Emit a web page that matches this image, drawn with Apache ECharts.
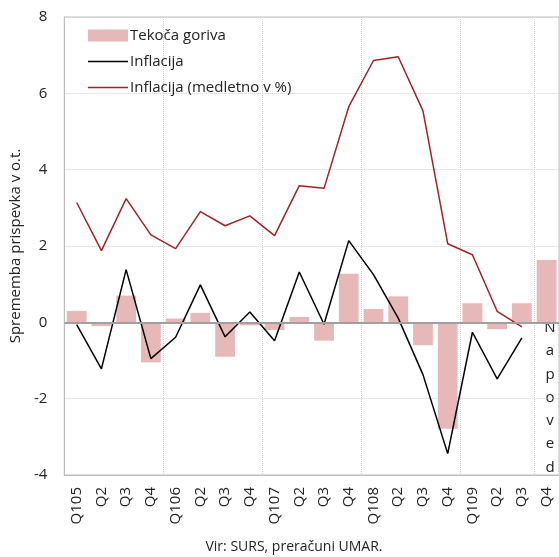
<!DOCTYPE html>
<html>
<head>
<meta charset="utf-8">
<script src="https://cdn.jsdelivr.net/npm/echarts@6/dist/echarts.min.js"></script>
<style>
  html, body { margin: 0; padding: 0; background: #fff; }
  #chart { width: 559px; height: 557px; }
</style>
</head>
<body>
<div id="chart"></div>
<script>
// quarters, 2005 Q1 .. 2009 Q4
const categories = ['Q105', 'Q2', 'Q3', 'Q4', 'Q106', 'Q2', 'Q3', 'Q4', 'Q107', 'Q2',
  'Q3', 'Q4', 'Q108', 'Q2', 'Q3', 'Q4', 'Q109', 'Q2', 'Q3', 'Q4'];

// contribution of liquid fuels (bars)
const fuels = [0.3, -0.1, 0.7, -1.05, 0.1, 0.25, -0.9, -0.08, -0.2, 0.14,
  -0.48, 1.27, 0.35, 0.68, -0.6, -2.79, 0.5, -0.18, 0.5, 1.63];

// inflation (black line)
const inflation = [-0.06, -1.22, 1.38, -0.95, -0.39, 0.98, -0.38, 0.27, -0.48, 1.32,
  -0.05, 2.14, 1.25, 0.11, -1.37, -3.44, -0.26, -1.48, -0.41];

// inflation, year on year in % (red line)
const inflationYoy = [3.14, 1.88, 3.24, 2.29, 1.93, 2.9, 2.53, 2.79, 2.27, 3.58,
  3.51, 5.65, 6.86, 6.96, 5.54, 2.06, 1.77, 0.29, -0.12];

const font = 'Open Sans';
// plain line icon for the legend (no symbol dot)
const lineIcon = 'path://M0,0H40V1.5H0Z';

const chart = echarts.init(document.getElementById('chart'));

const options = {
  animation: false,
  textStyle: { fontFamily: font },
  grid: {
    left: 59,
    right: 0,
    top: 17,
    bottom: 82,
    show: true,
    borderColor: '#bdbdbd',
    borderWidth: 1,
  },
  legend: {
    orient: 'vertical',
    left: 83,
    top: 23,
    itemWidth: 40,
    itemHeight: 12,
    itemGap: 11,
    textStyle: { fontSize: 15, color: '#222', fontFamily: font, padding: [0, 0, 0, -3] },
    data: [
      { name: 'Tekoča goriva', icon: 'rect' },
      { name: 'Inflacija', icon: lineIcon },
      { name: 'Inflacija (medletno v %)', icon: lineIcon },
    ],
  },
  xAxis: {
    type: 'category',
    data: categories,
    boundaryGap: true,
    axisLine: { onZero: false, lineStyle: { color: '#bdbdbd' } },
    axisTick: { show: false },
    axisLabel: { rotate: 90, fontSize: 15, color: '#222', margin: 12, interval: 0 },
    splitLine: {
      show: true,
      interval: 3,
      lineStyle: { color: '#d0d0d0', type: 'dotted' },
    },
  },
  yAxis: {
    type: 'value',
    min: -4,
    max: 8,
    interval: 2,
    name: 'Sprememba prispevka v o.t.',
    nameLocation: 'middle',
    nameRotate: 90,
    nameGap: 36,
    nameTextStyle: { fontSize: 15, color: '#222' },
    axisLine: { show: true, lineStyle: { color: '#bdbdbd' } },
    axisTick: { show: false },
    axisLabel: { fontSize: 15, color: '#222', margin: 17 },
    splitLine: { lineStyle: { color: '#d0d0d0', type: 'dotted' } },
  },
  series: [
    {
      name: 'Tekoča goriva',
      type: 'bar',
      data: fuels,
      barWidth: '80%',
      itemStyle: { color: '#e6b9b8' },
      markLine: {
        silent: true,
        symbol: 'none',
        label: { show: false },
        lineStyle: { color: '#a0a0a0', width: 2, type: 'solid' },
        data: [{ yAxis: 0 }],
      },
    },
    {
      name: 'Inflacija',
      type: 'line',
      data: inflation,
      symbol: 'none',
      lineStyle: { color: '#000', width: 1.5 },
      itemStyle: { color: '#000' },
    },
    {
      name: 'Inflacija (medletno v %)',
      type: 'line',
      data: inflationYoy,
      symbol: 'none',
      lineStyle: { color: '#a0222a', width: 1.5 },
      itemStyle: { color: '#a0222a' },
    },
  ],
  graphic: [
    {
      type: 'text',
      x: 550,
      y: 316,
      style: {
        text: 'N\na\np\no\nv\ne\nd',
        fontFamily: font,
        fontSize: 15,
        lineHeight: 23.3,
        fill: '#222',
        align: 'center',
        verticalAlign: 'top',
      },
    },
    {
      type: 'text',
      x: 294,
      y: 547,
      style: {
        text: 'Vir: SURS, preračuni UMAR.',
        fontFamily: font,
        fontSize: 14,
        fill: '#222',
        align: 'center',
        verticalAlign: 'middle',
      },
    },
  ],
};

chart.setOption(options);
</script>
</body>
</html>
